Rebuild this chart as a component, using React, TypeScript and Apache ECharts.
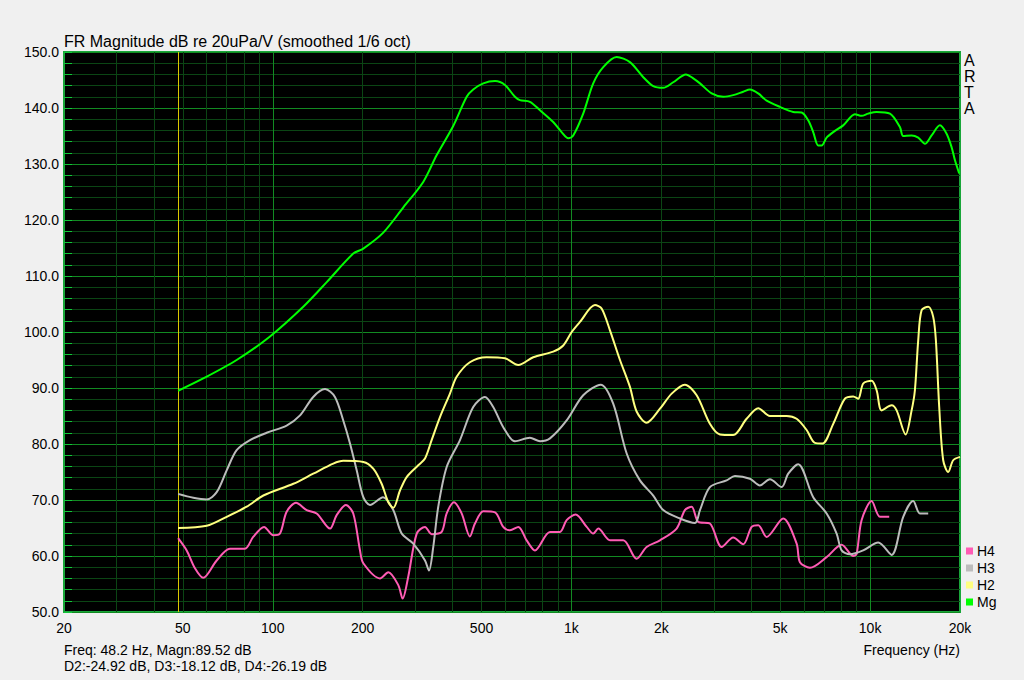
import { useEffect, useRef } from "react";
import * as echarts from "echarts";

// [frequency Hz, level dB]
const MG: [number, number][] = [
  [48.2, 89.5], [58.5, 91.7], [75.7, 95.0], [97.9, 99.2], [126.5, 104.5], [151.6, 108.9],
  [186, 114.0], [201, 114.9], [234, 117.7], [274, 122.3], [319, 126.8], [354, 131.6],
  [402, 136.8], [446, 142.0], [469, 143.3], [507, 144.4], [555, 144.8], [599, 144.1],
  [647, 142.0], [672, 141.4], [726, 141.1], [785, 139.6], [869, 137.5], [927, 135.7],
  [976, 134.6], [1014, 135.1], [1095, 139.0], [1183, 144.4], [1278, 147.3], [1417, 149.1],
  [1570, 148.2], [1740, 145.5], [1879, 143.9], [2030, 143.6], [2192, 144.6], [2418, 146.0],
  [2558, 145.3], [2694, 144.4], [2948, 142.6], [3224, 142.0], [3481, 142.3], [3760, 142.9],
  [3960, 143.3], [4222, 142.6], [4504, 141.3], [4990, 140.2], [5528, 139.3], [5898, 139.2],
  [6206, 137.8], [6450, 135.7], [6704, 133.3], [6882, 133.3], [7152, 134.7], [7526, 135.7],
  [8128, 136.9], [8894, 138.9], [9366, 138.6], [9856, 139.0], [10516, 139.3], [11652, 139.0],
  [12586, 136.6], [12910, 135.0], [13774, 135.1], [14492, 134.7], [15260, 133.6], [16068, 135.1],
  [17130, 136.9], [18036, 135.4], [18748, 133.0], [19228, 130.7], [19876, 128.3]
];

const H2: [number, number][] = [
  [48.2, 65.0], [60.1, 65.4], [70.1, 67.0], [81.8, 68.8], [93.0, 70.8], [117.2, 72.9],
  [136.6, 74.7], [159.4, 76.5], [172.2, 77.0], [201, 76.8], [217, 75.6], [231.5, 72.9],
  [243.7, 69.6], [253.2, 68.6], [266.7, 71.7], [280.8, 74.1], [307, 76.2], [323.4, 77.4],
  [340.4, 80.7], [363, 84.8], [392, 89.0], [412.8, 92.0], [457, 94.6], [520, 95.5],
  [599, 95.3], [664, 94.1], [745, 95.5], [869, 96.5], [939, 97.6], [1002, 100.0],
  [1068, 101.8], [1199, 104.8], [1262, 104.2], [1346, 100.3], [1454, 95.0], [1570, 90.2],
  [1653, 85.8], [1785, 83.8], [1979, 86.3], [2166, 89.0], [2398, 90.6], [2626, 88.7],
  [2908, 83.6], [3142, 81.7], [3481, 81.6], [3860, 84.5], [4222, 86.4], [4620, 85.0],
  [5254, 85.0], [5676, 84.5], [6130, 82.5], [6536, 80.2], [6934, 80.1], [7526, 83.6],
  [8236, 88.1], [8782, 88.5], [9126, 88.1], [9484, 90.8], [10118, 91.3], [10516, 89.6],
  [10930, 86.0], [11804, 86.9], [12270, 86.0], [13152, 81.7], [13774, 86.0], [14126, 89.6],
  [14492, 98.5], [14874, 103.9], [15652, 104.5], [16268, 102.7], [16608, 98.5], [17038, 86.6],
  [17570, 77.1], [18262, 75.0], [18980, 77.1], [20000, 77.7]
];

const H3: [number, number][] = [
  [48.2, 71.1], [54.2, 70.4], [60.1, 70.1], [64.9, 71.4], [70.1, 75.3], [75.7, 78.9],
  [83.9, 80.7], [95.4, 82.0], [111.3, 83.3], [123.4, 85.1], [136.6, 88.4], [149.6, 89.8],
  [161.5, 88.4], [172.2, 84.2], [181.4, 80.1], [191, 75.3], [201, 70.5], [211.6, 69.1],
  [234, 70.5], [253.2, 68.2], [270.2, 64.0], [295.4, 62.2], [323.4, 59.2], [333.4, 57.4],
  [344.6, 61.6], [358.2, 68.8], [382.2, 75.9], [423.4, 80.7], [469, 86.6], [513.4, 88.4],
  [547.2, 86.6], [591.2, 83.0], [647, 80.5], [726, 81.1], [785, 80.5], [847.6, 81.0],
  [963.8, 84.2], [1095, 88.7], [1253, 90.6], [1380, 87.2], [1531, 78.3], [1696, 73.5],
  [1879, 70.8], [2030, 68.2], [2308, 66.7], [2592, 65.9], [2694, 68.2], [2908, 72.3],
  [3308, 73.5], [3528, 74.3], [3960, 73.8], [4276, 72.6], [4620, 73.7], [5054, 72.3],
  [5320, 74.7], [5744, 76.4], [6450, 70.5], [7152, 67.6], [7726, 64.0], [8030, 61.0],
  [8560, 60.3], [9484, 61.0], [10646, 62.4], [11804, 60.2], [12910, 67.0], [13944, 69.8],
  [14682, 67.6], [15652, 67.6]
];

const H4: [number, number][] = [
  [48.2, 63.2], [51.5, 61.0], [54.9, 57.8], [58.5, 56.1], [64.9, 59.2], [71.9, 61.3],
  [80.7, 61.3], [86.0, 63.4], [93.5, 65.2], [100.4, 63.7], [105.7, 64.0], [111.3, 67.9],
  [119.6, 69.5], [129.9, 68.2], [140.3, 67.6], [155.5, 64.9], [163.7, 67.3], [175.8, 69.1],
  [186, 67.6], [195.9, 61.0], [201, 58.7], [228.6, 56.0], [243.7, 57.1], [263.2, 54.8],
  [272.2, 52.4], [284.2, 56.3], [303.4, 64.0], [323.4, 65.2], [340.4, 63.9], [367.8, 64.3],
  [382.2, 67.6], [404.4, 69.6], [429, 67.6], [457, 63.5], [475.4, 65.8], [507, 68.0],
  [555, 67.8], [591.2, 65.2], [622.6, 64.6], [664, 65.2], [708, 62.8], [754.8, 61.0],
  [847.6, 64.3], [915.2, 64.3], [963.8, 66.4], [1033, 67.4], [1125, 65.2], [1183, 64.0],
  [1230, 64.9], [1346, 62.8], [1491, 62.8], [1653, 59.5], [1785, 61.6], [1979, 62.8],
  [2250, 64.9], [2398, 68.2], [2526, 68.8], [2658, 66.1], [2908, 65.8], [3184, 61.6],
  [3481, 63.3], [3760, 62.1], [4012, 65.2], [4222, 65.5], [4504, 63.4], [5118, 66.7],
  [5676, 62.2], [5822, 58.9], [6290, 57.9], [7152, 59.8], [8030, 62.0], [8782, 60.0],
  [9014, 60.4], [9366, 66.4], [10118, 69.8], [10786, 67.0], [11588, 67.0]
];

const X_LABELS = [20, 50, 100, 200, 500, 1000, 2000, 5000, 10000, 20000];
const X_MINOR_GRID = [30, 40, 50, 60, 70, 80, 90, 200, 300, 400, 500, 600, 700, 800, 900,
  2000, 3000, 4000, 5000, 6000, 7000, 8000, 9000];
const X_MAJOR_GRID = [100, 1000, 10000];
const CURSOR_FREQ = 48.2;

const TITLE = "FR Magnitude dB re 20uPa/V (smoothed 1/6 oct)";
const INFO1 = "Freq: 48.2 Hz, Magn:89.52 dB";
const INFO2 = "D2:-24.92 dB, D3:-18.12 dB, D4:-26.19 dB";

const FONT = "'Liberation Sans', Arial, sans-serif";
const MAJOR = "#128a22";
const MINOR = "#0b4514";
const BRIGHT = "#12c83a";

export default function App() {
  const ref = useRef<HTMLDivElement>(null);
  useEffect(() => {
    if (!ref.current) return;
    const chart = echarts.init(ref.current, undefined, { renderer: "svg" });
    const line = (name: string, data: [number, number][], color: string) => ({
      type: "line",
      name,
      data,
      showSymbol: false,
      symbol: "none",
      smooth: 0.3,
      z: 3,
      itemStyle: { color },
      lineStyle: { color, width: 2 },
    });
    const vlines = (name: string, values: number[], color: string) => ({
      type: "line",
      name,
      data: [],
      z: 1,
      silent: true,
      itemStyle: { color },
      lineStyle: { color },
      markLine: {
        silent: true,
        symbol: "none",
        z: 1,
        label: { show: false },
        emphasis: { disabled: true },
        lineStyle: { type: "solid", width: 1, color, opacity: 1 },
        data: values.map((v) => ({ xAxis: v })),
      },
    });
    chart.setOption({
      animation: false,
      backgroundColor: "#f0f0f0",
      textStyle: { fontFamily: FONT },
      title: {
        text: TITLE,
        left: 59,
        top: 28,
        textStyle: { fontSize: 16, fontWeight: "normal", color: "#000", fontFamily: FONT },
      },
      grid: {
        left: 64, right: 64, top: 52, bottom: 68,
        show: true, backgroundColor: "#000", borderColor: "#1aa63a", borderWidth: 2,
      },
      legend: {
        orient: "vertical",
        left: 966,
        top: 544,
        padding: 0,
        itemGap: 3,
        itemWidth: 7,
        itemHeight: 7,
        icon: "rect",
        data: ["H4", "H3", "H2", "Mg"],
        textStyle: { fontSize: 14, color: "#000", lineHeight: 14, fontFamily: FONT, padding: [0, 0, 0, -1] },
        selectedMode: false,
      },
      xAxis: {
        type: "log",
        logBase: 10,
        min: 20,
        max: 20000,
        axisLine: { show: false },
        splitLine: { show: false },
        minorTick: { show: false },
        minorSplitLine: { show: false },
        axisTick: {
          show: true, inside: true, length: 12,
          customValues: [...X_MINOR_GRID, ...X_MAJOR_GRID],
          lineStyle: { color: BRIGHT, width: 1 },
        },
        axisLabel: {
          customValues: X_LABELS,
          margin: 9,
          fontSize: 14,
          color: "#000",
          fontFamily: FONT,
          formatter: (v: number) => (v >= 1000 ? `${Math.round(v / 1000)}k` : `${Math.round(v)}`),
        },
      },
      yAxis: {
        type: "value",
        min: 50,
        max: 150,
        interval: 10,
        axisLine: { show: false, onZero: false },
        axisTick: { show: true, inside: true, length: 8, lineStyle: { color: BRIGHT } },
        minorTick: { show: true, splitNumber: 5, length: 8, lineStyle: { color: BRIGHT } },
        splitLine: { show: true, lineStyle: { color: MAJOR, width: 1 } },
        minorSplitLine: { show: true, lineStyle: { color: MINOR, width: 1 } },
        axisLabel: {
          margin: 5,
          fontSize: 14,
          color: "#000",
          fontFamily: FONT,
          formatter: (v: number) => v.toFixed(1),
        },
      },
      series: [
        vlines("minorGrid", X_MINOR_GRID, MINOR),
        vlines("majorGrid", X_MAJOR_GRID, MAJOR),
        vlines("cursor", [CURSOR_FREQ], "#dcc800"),
        line("H4", H4, "#ff5cb4"),
        line("H3", H3, "#bcbcbc"),
        line("H2", H2, "#ffff80"),
        line("Mg", MG, "#00ff00"),
      ],
      graphic: [
        {
          type: "text", left: 964, top: 52,
          style: { text: "A\nR\nT\nA", font: `16px ${FONT}`, fill: "#000", lineHeight: 16, align: "center" },
        },
        {
          type: "text", left: 64, top: 643,
          style: { text: INFO1, font: `14px ${FONT}`, fill: "#000" },
        },
        {
          type: "text", left: 64, top: 659,
          style: { text: INFO2, font: `14px ${FONT}`, fill: "#000" },
        },
        {
          type: "text", right: 64, top: 643,
          style: { text: "Frequency (Hz)", font: `14px ${FONT}`, fill: "#000" },
        },
      ],
    });
    return () => chart.dispose();
  }, []);
  return <div ref={ref} style={{ position: "absolute", left: 0, top: 0, width: 1024, height: 680 }} />;
}
